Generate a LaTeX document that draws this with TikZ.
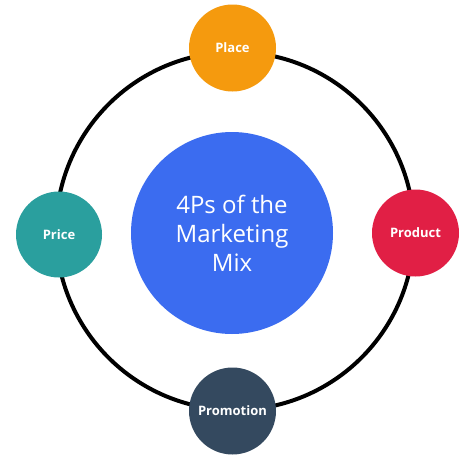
\documentclass[tikz,border=0pt]{standalone}
\usepackage{fontspec}
\setmainfont{Open Sans}
\definecolor{placec}{HTML}{F59A0E}
\definecolor{pricec}{HTML}{2A9F9E}
\definecolor{productc}{HTML}{E11F45}
\definecolor{promoc}{HTML}{34495F}
\definecolor{centerc}{HTML}{3B6CF0}
\begin{document}
\begin{tikzpicture}[x=1pt,y=-1pt,
  pcircle/.style={circle,minimum size=87pt,inner sep=0pt,text=white,font=\fontsize{13}{15}\selectfont\bfseries},
  ring/.style={draw=black,line width=4pt}]
\useasboundingbox (0,0) rectangle (474,463);
\fill[white] (0,0) rectangle (474,463);
\coordinate (c) at (235,231);
\draw[ring] (c) circle[radius=179];
\node[circle,fill=centerc,minimum size=202pt,inner sep=0pt,text=white,align=center,
  font=\fontsize{24}{29}\selectfont] (mix) at (232,233) {4Ps of the\\Marketing\\Mix};
\node[pcircle,fill=placec] (place) at (232.5,48) {Place};
\node[pcircle,fill=pricec,minimum size=86pt] (price) at (59,234.5) {Price};
\node[pcircle,fill=productc] (product) at (415.5,233) {Product};
\node[pcircle,fill=promoc] (promo) at (232.5,411) {Promotion};
\end{tikzpicture}
\end{document}
